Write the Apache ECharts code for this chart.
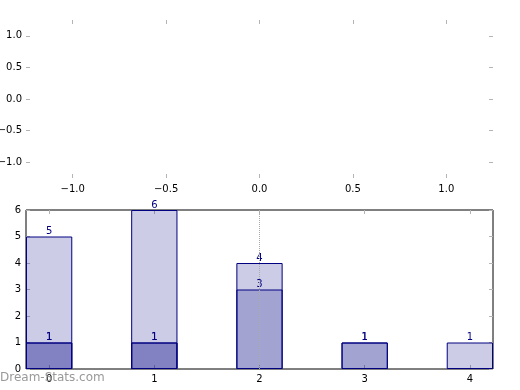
<!DOCTYPE html>
<html>
<head>
<meta charset="utf-8">
<script src="https://cdn.jsdelivr.net/npm/echarts@6/dist/echarts.min.js"></script>
<style>
html,body{margin:0;padding:0;background:#fff;}
#main{width:520px;height:390px;}
</style>
</head>
<body>
<div id="main"></div>
<script>
// Data
const categories = [0, 1, 2, 3, 4];
const seriesA = [5, 6, 4, 1, 1];
const seriesB = [1, 1, 3, 1, null];
const seriesC = [1, 1, null, null, null];
const topTickValues = [-1, -0.5, 0, 0.5, 1];
const markX = 2;

const FONT = 'DejaVu Sans';
const tickColor = '#b4b4b4';
const gridLeft = 26, gridWidth = 467;
const xMin = -0.22, xMax = 4.22;
const barUnits = 0.44;
const barPx = barUnits * gridWidth / (xMax - xMin);

function fmt1(v) {
  return (Math.round(v * 10) / 10).toFixed(1).replace('-', '\u2212');
}

function tickOnly(extra) {
  return Object.assign({
    axisLine: {show: false, onZero: false},
    splitLine: {show: false},
    axisTick: {show: true, inside: true, length: 4, lineStyle: {color: tickColor, width: 1}},
    axisLabel: {show: false}
  }, extra);
}

const labelStyle = {fontFamily: FONT, fontSize: 10, color: '#000'};

function toPairs(arr) {
  const out = [];
  arr.forEach((v, i) => { if (v !== null) out.push([categories[i], v]); });
  return out;
}

function barSeries(arr, withMark) {
  const s = {
    type: 'bar',
    xAxisIndex: 2,
    yAxisIndex: 2,
    data: toPairs(arr),
    barWidth: barPx,
    barGap: '-100%',
    itemStyle: {color: 'rgba(0,0,128,0.2)', borderColor: '#000080', borderWidth: 1},
    label: {show: true, position: 'top', distance: 0, color: '#000080', fontFamily: FONT, fontSize: 10,
            formatter: p => String(p.value[1])},
    emphasis: {disabled: true}
  };
  if (withMark) {
    s.markLine = {
      silent: true,
      symbol: ['none', 'none'],
      label: {show: false},
      lineStyle: {type: 'dotted', color: '#aaaaaa', width: 1},
      data: [{xAxis: markX}]
    };
  }
  return s;
}

function ticks(values) {
  const t = {show: true, inside: true, length: 4, lineStyle: {color: tickColor, width: 1}};
  if (values) t.customValues = values;
  return t;
}

const chart = echarts.init(document.getElementById('main'));
chart.setOption({
  animation: false,
  backgroundColor: '#fff',
  grid: [
    {left: gridLeft, top: 20, width: gridWidth, height: 158, show: false, containLabel: false, outerBoundsMode: 'none'},
    {left: gridLeft, top: 210, width: gridWidth, height: 159, show: true, borderColor: '#000', borderWidth: 1, backgroundColor: 'transparent', containLabel: false, outerBoundsMode: 'none'}
  ],
  xAxis: [
    tickOnly({type: 'value', gridIndex: 0, position: 'bottom', min: -1.25, max: 1.25,
      axisTick: ticks(topTickValues),
      axisLabel: Object.assign({show: true, margin: 6, customValues: topTickValues, formatter: fmt1}, labelStyle)}),
    tickOnly({type: 'value', gridIndex: 0, position: 'top', min: -1.25, max: 1.25,
      axisTick: ticks(topTickValues)}),
    tickOnly({type: 'value', gridIndex: 1, position: 'bottom', min: xMin, max: xMax,
      axisTick: ticks(categories),
      axisLabel: Object.assign({show: true, margin: 5, customValues: categories, formatter: v => String(Math.round(v))}, labelStyle)}),
    tickOnly({type: 'value', gridIndex: 1, position: 'top', min: xMin, max: xMax,
      axisTick: ticks(categories)})
  ],
  yAxis: [
    tickOnly({type: 'value', gridIndex: 0, position: 'left', min: -1.25, max: 1.25,
      axisTick: ticks(topTickValues),
      axisLabel: Object.assign({show: true, margin: 4, customValues: topTickValues, formatter: fmt1}, labelStyle)}),
    tickOnly({type: 'value', gridIndex: 0, position: 'right', min: -1.25, max: 1.25,
      axisTick: ticks(topTickValues)}),
    tickOnly({type: 'value', gridIndex: 1, position: 'left', min: 0, max: 6, interval: 1,
      axisTick: ticks(null),
      axisLabel: Object.assign({show: true, margin: 5}, labelStyle)}),
    tickOnly({type: 'value', gridIndex: 1, position: 'right', min: 0, max: 6, interval: 1,
      axisTick: ticks(null)})
  ],
  series: [
    barSeries(seriesA, true),
    barSeries(seriesB, false),
    barSeries(seriesC, false)
  ],
  graphic: [{
    type: 'text', left: 0, top: 372, z: 100,
    style: {text: 'Dream-Stats.com', fill: '#999999', font: '12px "DejaVu Sans"'}
  }]
});
</script>
</body>
</html>
